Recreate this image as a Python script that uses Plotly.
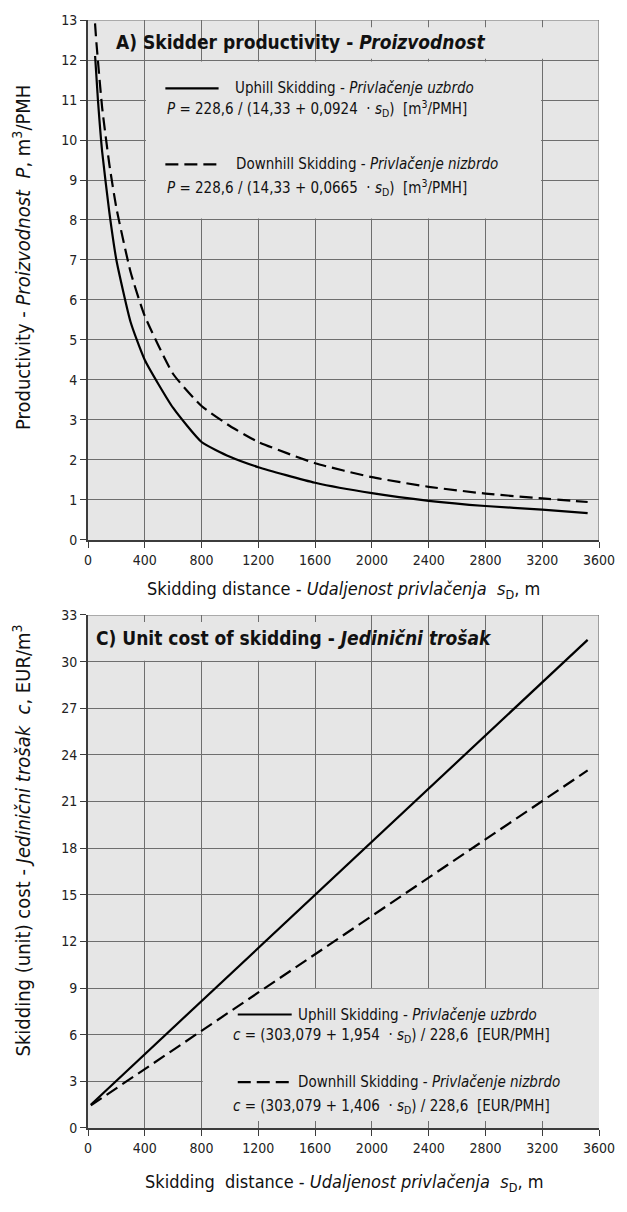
import plotly.graph_objects as go

FONT = "Liberation Sans Narrow, Arial Narrow, DejaVu Sans Condensed, sans-serif"

# ---------------- data ----------------
x_ticks = [0, 400, 800, 1200, 1600, 2000, 2400, 2800, 3200, 3600]
yA_ticks = list(range(0, 14))
yC_ticks = list(range(0, 34, 3))

# A) productivity, m3/PMH (read from the picture)
s_up_A = [50, 70, 100, 150, 200, 300, 400, 600, 800, 1000, 1200, 1600, 2000, 2400, 2800, 3200, 3520]
p_up_A = [12.1, 11.0, 9.7, 8.2, 7.0, 5.45, 4.5, 3.3, 2.45, 2.08, 1.82, 1.43, 1.17, 0.98, 0.85, 0.76, 0.67]
s_dn_A = [40, 60, 100, 150, 200, 300, 400, 600, 800, 1000, 1200, 1600, 2000, 2400, 2800, 3200, 3520]
p_dn_A = [13.4, 12.4, 10.8, 9.4, 8.3, 6.7, 5.6, 4.15, 3.35, 2.85, 2.45, 1.92, 1.57, 1.33, 1.16, 1.04, 0.95]

# C) unit cost, EUR/m3
s_C = [20, 3520]
c_up_C = [1.5, 31.4]
c_dn_C = [1.45, 23.0]

BG = "#e6e6e6"
GRID = "#6e6e6e"
DASH = "13px,6px"

fig = go.Figure()
fig.add_trace(go.Scatter(x=s_up_A, y=p_up_A, mode="lines", line=dict(color="black", width=2.2, shape="spline", smoothing=0.5),
                         xaxis="x", yaxis="y", showlegend=False))
fig.add_trace(go.Scatter(x=s_dn_A, y=p_dn_A, mode="lines", line=dict(color="black", width=2.2, dash=DASH, shape="spline", smoothing=0.5),
                         xaxis="x", yaxis="y", showlegend=False))
fig.add_trace(go.Scatter(x=s_C, y=c_up_C, mode="lines", line=dict(color="black", width=2.2),
                         xaxis="x2", yaxis="y2", showlegend=False))
fig.add_trace(go.Scatter(x=s_C, y=c_dn_C, mode="lines", line=dict(color="black", width=2.2, dash=DASH),
                         xaxis="x2", yaxis="y2", showlegend=False))

axis_common = dict(showgrid=True, gridcolor=GRID, gridwidth=1, zeroline=False, showline=True,
                   linecolor="#3c3c3c", linewidth=2, ticks="outside", ticklen=6, tickcolor="#3c3c3c",
                   tickfont=dict(family=FONT, size=14, color="#222"))

xa = dict(axis_common, range=[0, 3600], tickvals=x_ticks, ticktext=[str(v) for v in x_ticks],
          ticklabeloverflow="allow")
DOM_A = [0.5307, 1]
DOM_C = [0, 0.463]
fig.update_layout(
    width=627, height=1212,
    paper_bgcolor="white", plot_bgcolor=BG,
    margin=dict(l=88, r=17, t=20, b=84),
    font=dict(family=FONT, size=15, color="#222"),
    xaxis=dict(xa, domain=[0, 1], anchor="y"),
    yaxis=dict(axis_common, range=[0, 13], tickvals=yA_ticks, domain=DOM_A, anchor="x"),
    xaxis2=dict(xa, domain=[0, 1], anchor="y2"),
    yaxis2=dict(axis_common, range=[0, 33], tickvals=yC_ticks, domain=DOM_C, anchor="x2"),
)

# masks that hide gridlines behind the text boxes
masks = [
    ("x", "y", 408, 3192, 8.04, 11.96),
    ("x", "y", 1750, 3594, 12.03, 12.82),
    ("x2", "y2", 10, 1800, 30.05, 32.55),
    ("x2", "y2", 808, 3650, 0.45, 8.95),
]
for xr, yr, x0, x1, y0, y1 in masks:
    fig.add_shape(type="rect", xref=xr, yref=yr, x0=x0, x1=x1, y0=y0, y1=y1,
                  fillcolor=BG, line=dict(width=0), layer="between")

# frame lines (top and right borders)
frame = [
    ("x", "y", 0, 3600, 13, 13),
    ("x", "y", 3600, 3600, 0, 13),
    ("x2", "y2", 0, 3600, 33, 33),
    ("x2", "y2", 3600, 3600, 9, 33),
]
for xr, yr, x0, x1, y0, y1 in frame:
    fig.add_shape(type="line", xref=xr, yref=yr, x0=x0, x1=x1, y0=y0, y1=y1,
                  line=dict(color=GRID, width=1.2), layer="between")

# legend line samples
samples = [
    ("x", "y", 545, 920, 11.29, "solid"),
    ("x", "y", 545, 920, 9.39, DASH),
    ("x2", "y2", 1055, 1435, 7.3, "solid"),
    ("x2", "y2", 1055, 1435, 2.95, DASH),
]
for xr, yr, x0, x1, yy, dsh in samples:
    fig.add_shape(type="line", xref=xr, yref=yr, x0=x0, x1=x1, y0=yy, y1=yy,
                  line=dict(color="black", width=2.2, dash=dsh), layer="above")

def ann(xr, yr, x, y, text, size=15):
    fig.add_annotation(xref=xr, yref=yr, x=x, y=y, text=text, showarrow=False, xanchor="left", yanchor="middle",
                       font=dict(family=FONT, size=size, color="#111"))

ann("x", "y", 181, 12.45, "<b>A) Skidder productivity - <i>Proizvodnost</i></b>", size=19)
ann("x", "y", 1025, 11.29, "Uphill Skidding - <i>Privlačenje uzbrdo</i>")
ann("x", "y", 540, 10.8, "<i>P</i> = 228,6 / (14,33 + 0,0924  · <i>s</i><sub>D</sub>)  [m<sup>3</sup>/PMH]")
ann("x", "y", 1030, 9.39, "Downhill Skidding - <i>Privlačenje nizbrdo</i>")
ann("x", "y", 540, 8.81, "<i>P</i> = 228,6 / (14,33 + 0,0665  · <i>s</i><sub>D</sub>)  [m<sup>3</sup>/PMH]")

ann("x2", "y2", 45, 31.5, "<b>C) Unit cost of skidding - <i>Jedinični trošak</i></b>", size=19)
ann("x2", "y2", 1462, 7.3, "Uphill Skidding - <i>Privlačenje uzbrdo</i>")
ann("x2", "y2", 1005, 5.95, "<i>c</i> = (303,079 + 1,954  · <i>s</i><sub>D</sub>) / 228,6  [EUR/PMH]")
ann("x2", "y2", 1462, 2.95, "Downhill Skidding - <i>Privlačenje nizbrdo</i>")
ann("x2", "y2", 1005, 1.4, "<i>c</i> = (303,079 + 1,406  · <i>s</i><sub>D</sub>) / 228,6  [EUR/PMH]")

# axis titles
def title(x, y, text, size, xshift=0, yshift=0, angle=0):
    fig.add_annotation(xref="paper", yref="paper", x=x, y=y, xshift=xshift, yshift=yshift, textangle=angle,
                       showarrow=False, xanchor="center", yanchor="middle", text=text,
                       font=dict(family=FONT, size=size, color="#111"))

title(0.5, DOM_A[0], "Skidding distance - <i>Udaljenost privlačenja  s</i><sub>D</sub>, m", 18, yshift=-50)
title(0.5, DOM_C[0], "Skidding&nbsp; distance - <i>Udaljenost privlačenja  s</i><sub>D</sub>, m", 18, yshift=-55)
title(0, sum(DOM_A) / 2, "Productivity - <i>Proizvodnost  P</i>, m<sup>3</sup>/PMH", 20, xshift=-66, yshift=22, angle=-90)
title(0, sum(DOM_C) / 2, "Skidding (unit) cost - <i>Jedinični trošak  c</i>, EUR/m<sup>3</sup>", 20, xshift=-66, yshift=31, angle=-90)

fig.write_html("out.html", config={"displayModeBar": False},
               post_script="document.body.style.margin='0';document.body.style.overflow='hidden';")
